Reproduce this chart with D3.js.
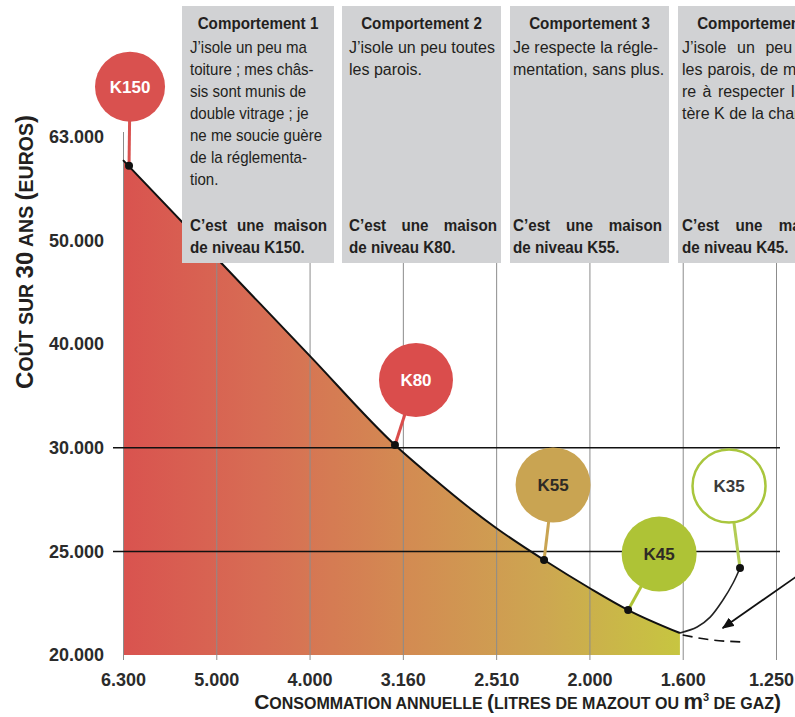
<!DOCTYPE html>
<html>
<head>
<meta charset="utf-8">
<script src="https://cdn.jsdelivr.net/npm/d3@7"></script>
<style>
  body { margin: 0; background: #fff; }
  svg { display: block; }
</style>
</head>
<body>
<svg id="chart" width="795" height="717"></svg>
<script>
// ---- data ----
const xTicks = [6300, 5000, 4000, 3160, 2510, 2000, 1600, 1250];   // litres / m³ per year
const yTicks = [20000, 25000, 30000, 40000, 50000, 63000];          // euros over 30 years
const refLines = [30000, 25000];

// cost over 30 years vs annual consumption
const costCurve = [
  [6300, 60100], [5000, 48340], [4000, 38900], [3231, 30270],
  [2950, 28540], [2713, 27190], [2510, 26130], [2248, 24585],
  [2000, 23234], [1834, 22170], [1612, 21060]
];
const k35Branch = [
  [1612, 21060], [1546, 21350], [1497, 21830], [1449, 22655], [1411, 23475], [1385, 24200]
];
const dashedBranch = [[1600, 20965], [1490, 20725], [1374, 20630]];

const levels = ["K150", "K80", "K55", "K45", "K35"];
const levelConsumption = [6216, 3231, 2248, 1834, 1385];
const levelCost = [59400, 30270, 24585, 22170, 24200];

const boxTitles = ["Comportement 1", "Comportement 2", "Comportement 3", "Comportement 4"];
const boxBodies = [
  ["J’isole un peu ma", "toiture ; mes châs-", "sis sont munis de", "double vitrage ; je",
   "ne me soucie guère", "de la réglementa-", "tion."],
  ["J’isole un peu toutes", "les parois."],
  ["Je respecte la régle-", "mentation, sans plus."],
  ["J’isole un peu plus", "les parois, de maniè-", "re à respecter le cri-", "tère K de la charte."]
];
const boxFooters = [
  ["C’est une maison", "de niveau K150."],
  ["C’est une maison", "de niveau K80."],
  ["C’est une maison", "de niveau K55."],
  ["C’est une maison", "de niveau K45."]
];

// ---- layout ----
const svg = d3.select("#chart");
const X0 = 123, X1 = 776, Y0 = 655, Y1 = 137;
const xStep = (X1 - X0) / (xTicks.length - 1);
const yStep = (Y0 - Y1) / (yTicks.length - 1);

// tick values are evenly spaced, so both scales are piecewise linear
const x = d3.scaleLinear().domain(xTicks).range(xTicks.map((d, i) => X0 + i * xStep));
const y = d3.scaleLinear().domain(yTicks).range(yTicks.map((d, i) => Y0 - i * yStep));

const fr = d3.formatLocale({ decimal: ",", thousands: ".", grouping: [3], currency: ["", " €"] });
const fmt = fr.format(",d");

const SANS = "'Liberation Sans', Arial, Helvetica, sans-serif";

// ---- gradient ----
const defs = svg.append("defs");
const grad = defs.append("linearGradient").attr("id", "fillGrad")
  .attr("gradientUnits", "userSpaceOnUse")
  .attr("x1", x(6300)).attr("x2", x(1600)).attr("y1", 0).attr("y2", 0);
[[0, "#d9534f"], [0.25, "#d76d54"], [0.5, "#d38a52"], [0.75, "#cda651"], [1, "#c7c640"]]
  .forEach(([o, c]) => grad.append("stop").attr("offset", o).attr("stop-color", c));

defs.append("marker").attr("id", "arrowHead")
  .attr("viewBox", "0 0 12 10").attr("refX", 11).attr("refY", 5)
  .attr("markerWidth", 12).attr("markerHeight", 10).attr("markerUnits", "userSpaceOnUse")
  .attr("orient", "auto")
  .append("path").attr("d", "M0,0 L12,5 L0,10 Z").attr("fill", "#111");

// ---- filled area under the curve ----
const area = d3.area()
  .x(d => x(d[0])).y0(y(20000)).y1(d => y(d[1]))
  .curve(d3.curveMonotoneX);
svg.append("path").datum(costCurve).attr("d", area).attr("fill", "url(#fillGrad)");

// ---- vertical grid + x labels ----
const xAxis = d3.axisBottom(x).tickValues(xTicks).tickFormat(fmt)
  .tickSizeInner(-(660 - 132)).tickSizeOuter(0).tickPadding(13);
const gx = svg.append("g").attr("transform", "translate(0,660)").call(xAxis);
gx.select(".domain").remove();
gx.selectAll(".tick line").attr("stroke", "#8c8c8c").attr("stroke-width", 1);
gx.selectAll(".tick text").attr("fill", "#2b2b2b")
  .style("font", `bold 18px ${SANS}`)
  .attr("dx", (d, i) => i === xTicks.length - 1 ? -5 : 0);

// ---- y labels ----
const yAxis = d3.axisLeft(y).tickValues(yTicks).tickFormat(fmt).tickSize(0).tickPadding(19);
const gy = svg.append("g").attr("transform", `translate(${X0},0)`).call(yAxis);
gy.select(".domain").remove();
gy.selectAll(".tick text").attr("fill", "#2b2b2b")
  .style("font", `bold 18px ${SANS}`);

// ---- reference lines ----
svg.append("g").selectAll("line").data(refLines).join("line")
  .attr("x1", 113).attr("x2", 780)
  .attr("y1", d => y(d)).attr("y2", d => y(d))
  .attr("stroke", "#111").attr("stroke-width", 1.5);

// ---- curves ----
const line = d3.line().x(d => x(d[0])).y(d => y(d[1])).curve(d3.curveMonotoneX);
svg.append("path").datum(costCurve).attr("d", line)
  .attr("fill", "none").attr("stroke", "#111").attr("stroke-width", 2);
svg.append("path").datum(k35Branch).attr("d", d3.line().x(d => x(d[0])).y(d => y(d[1])).curve(d3.curveCatmullRom))
  .attr("fill", "none").attr("stroke", "#222").attr("stroke-width", 1.6);
svg.append("path").datum(dashedBranch).attr("d", line)
  .attr("fill", "none").attr("stroke", "#111").attr("stroke-width", 1.6)
  .attr("stroke-dasharray", "10,6");

// arrow pointing at the K35 branch
svg.append("line")
  .attr("x1", 800).attr("y1", 574).attr("x2", x(1450)).attr("y2", y(21300))
  .attr("stroke", "#111").attr("stroke-width", 1.8)
  .attr("marker-end", "url(#arrowHead)");

// ---- behaviour boxes ----
const boxes = [
  { x: 182, w: 152, tx: 190, tw: 137, sx: 0.94 },
  { x: 342, w: 159, tx: 349, tw: 148, sx: 1 },
  { x: 510, w: 159, tx: 513, tw: 149, sx: 1 },
  { x: 678, w: 159, tx: 682, tw: 150, sx: 1 }
];
const BOLD_SX = 0.95;

// spread the words of a line over the given width
function justify(textSel, width) {
  textSel.each(function () {
    const t = d3.select(this);
    const gaps = t.text().split(" ").length - 1;
    if (gaps < 1) return;
    const len = this.getComputedTextLength();
    t.attr("word-spacing", Math.max(0, (width - len) / gaps));
  });
}

function textLine(parent, tx, ty, sx, str, bold, anchor) {
  return parent.append("g").attr("transform", `translate(${tx},${ty}) scale(${sx},1)`)
    .append("text").attr("text-anchor", anchor || "start").attr("fill", "#231f20")
    .style("font", `${bold ? "bold " : ""}16px ${SANS}`).text(str);
}

boxes.forEach((b, i) => {
  const g = svg.append("g");
  g.append("rect").attr("x", b.x).attr("y", 6).attr("width", b.w).attr("height", 257)
    .attr("fill", "#d1d2d4");
  textLine(g, b.x + b.w / 2, 29, BOLD_SX, boxTitles[i], true, "middle");
  const body = boxBodies[i].map((s, k) => textLine(g, b.tx, 53 + k * 22, b.sx, s, false));
  if (i === 3) body.slice(0, 3).forEach(t => justify(t, b.tw / b.sx));
  const foot = boxFooters[i].map((s, k) => textLine(g, b.tx, 231 + k * 22, BOLD_SX, s, true));
  justify(foot[0], b.tw / BOLD_SX);
});

// ---- level bubbles ----
const bubbleStyle = [
  { dx: 1,   dy: -79, r: 35,   fill: "#d9514f", stroke: "none",    stem: "#d9514f", text: "#fff" },
  { dx: 21,  dy: -65, r: 37,   fill: "#da4d4c", stroke: "none",    stem: "#da4d4c", text: "#fff" },
  { dx: 9,   dy: -75, r: 37.5, fill: "#c9a452", stroke: "none",    stem: "#c9a452", text: "#2e2a25" },
  { dx: 31,  dy: -56, r: 37.5, fill: "#aec336", stroke: "none",    stem: "#aec336", text: "#2e2a25" },
  { dx: -11, dy: -82, r: 36.5, fill: "#ffffff", stroke: "#a9c63d", stem: "#b3cc55", text: "#3a3a3a" }
];

const pts = levels.map((k, i) => ({
  name: k, px: x(levelConsumption[i]), py: y(levelCost[i]), s: bubbleStyle[i]
}));

const gb = svg.append("g");
gb.selectAll("line").data(pts).join("line")
  .attr("x1", d => d.px + d.s.dx).attr("y1", d => d.py + d.s.dy)
  .attr("x2", d => d.px).attr("y2", d => d.py)
  .attr("stroke", d => d.s.stem).attr("stroke-width", 3);
gb.selectAll("circle.bubble").data(pts).join("circle").attr("class", "bubble")
  .attr("cx", d => d.px + d.s.dx).attr("cy", d => d.py + d.s.dy).attr("r", d => d.s.r)
  .attr("fill", d => d.s.fill).attr("stroke", d => d.s.stroke).attr("stroke-width", 2.5);
gb.selectAll("text").data(pts).join("text")
  .attr("x", d => d.px + d.s.dx).attr("y", d => d.py + d.s.dy)
  .attr("dy", "0.36em").attr("text-anchor", "middle")
  .attr("fill", d => d.s.text).style("font", `bold 17px ${SANS}`)
  .text(d => d.name);
gb.selectAll("circle.pt").data(pts).join("circle").attr("class", "pt")
  .attr("cx", d => d.px).attr("cy", d => d.py).attr("r", 4).attr("fill", "#111");

// ---- axis titles (small caps) ----
function smallCaps(sel, parts) {
  parts.forEach(([t, size, shift]) => {
    const ts = sel.append("tspan").attr("font-size", size).text(t);
    if (shift) ts.attr("baseline-shift", shift);
  });
}
const yTitle = svg.append("text")
  .attr("transform", "translate(33,252) rotate(-90)")
  .attr("text-anchor", "middle").attr("fill", "#231f20")
  .style("font-family", SANS).style("font-weight", "bold");
smallCaps(yTitle, [["C", 24], ["OÛT SUR ", 19.5], ["30", 24], [" ANS ", 19.5], ["(", 24], ["EUROS", 19.5], [")", 24]]);

const xTitle = svg.append("text")
  .attr("x", 781).attr("y", 709).attr("text-anchor", "end").attr("fill", "#231f20")
  .style("font-family", SANS).style("font-weight", "bold");
smallCaps(xTitle, [["C", 21], ["ONSOMMATION ANNUELLE ", 16], ["(", 21], ["LITRES DE MAZOUT OU ", 16],
  ["m", 22], ["3", 11, "8"], [" DE GAZ", 16], [")", 21]]);
</script>
</body>
</html>
